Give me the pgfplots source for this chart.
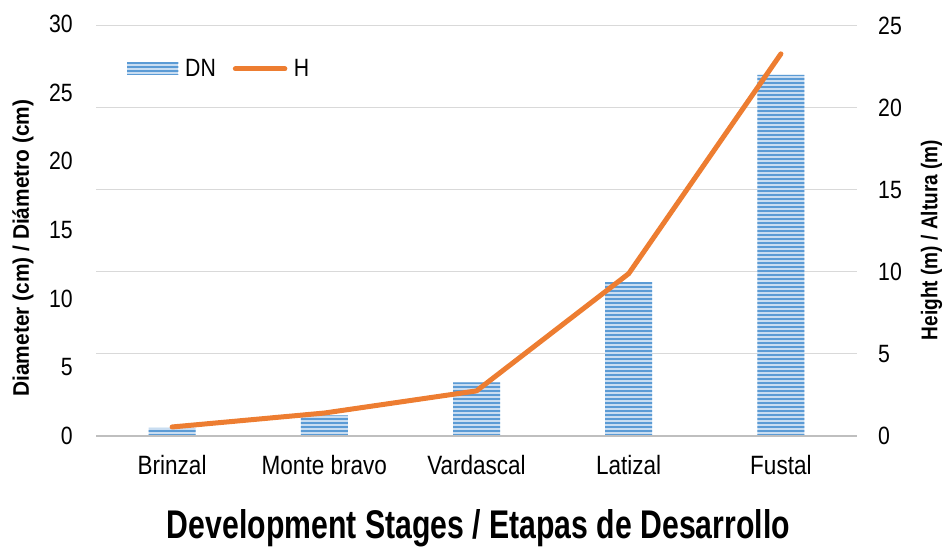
\documentclass[border=0pt]{standalone}
\usepackage{fontspec}
\setmainfont{Liberation Sans}[FakeStretch=0.85]
\usepackage{pgfplots}
\pgfplotsset{compat=1.18}
\usetikzlibrary{patterns.meta}
\definecolor{barblue}{HTML}{5B9BD5}
\definecolor{barlight}{HTML}{C9DDF1}
\definecolor{horange}{HTML}{ED7D31}
\definecolor{gridgray}{HTML}{D9D9D9}
\definecolor{basegray}{HTML}{BFBFBF}
\pgfplotstableread{
x DN H
0 0.6 0.55
1 1.5 1.4
2 3.9 2.75
3 11.2 9.9
4 26.3 23.3
}\datatable
\begin{document}
\begin{tikzpicture}
\path (-96bp,-111bp) rectangle (847bp,436bp);
\begin{axis}[
  at={(0,0)}, anchor=south west, scale only axis,
  width=761bp, height=412bp,
  xmin=-0.5, xmax=4.5, ymin=0, ymax=30,
  axis y line*=left, axis x line*=bottom,
  axis line style={draw=none},
  major tick length=0pt,
  xtick={0,1,2,3,4},
  xticklabels={Brinzal,Monte bravo,Vardascal,Latizal,Fustal},
  ytick={0,5,...,30},
  extra y ticks={5.971,11.943,17.914,23.885,29.857},
  extra y tick labels={},
  extra y tick style={grid=major, major grid style={gridgray, line width=1bp}},
  /pgf/number format/assume math mode=true,
  xticklabel style={font=\fontsize{26.5bp}{26.5bp}\selectfont, inner sep=0pt, anchor=north, yshift=-19bp},
  yticklabel style={font=\fontsize{25bp}{25bp}\selectfont, inner sep=0pt, anchor=east, xshift=-23bp},
  legend style={at={(0.0407,0.8908)}, anchor=west, draw=none, fill=none, inner sep=0pt,
    font=\fontsize{25bp}{25bp}\selectfont,
    nodes={inner sep=0pt},
    /tikz/every even column/.append style={column sep=17bp}},
  legend columns=2,
]
\addplot[ybar, bar width=47bp, bar shift=0pt, fill=barlight, draw=none,
  postaction={pattern={Lines[angle=0,distance=4bp,line width=2.2bp]}, pattern color=barblue},
  legend image code/.code={
    \fill[barlight] (0bp,-6bp) rectangle (51bp,6bp);
    \fill[pattern={Lines[angle=0,distance=4bp,line width=2.2bp]}, pattern color=barblue] (0bp,-6bp) rectangle (51bp,6bp);
    \path[draw=none, fill=none] (0bp,0bp) -- (58bp,0bp);
  }] table[x=x, y=DN] {\datatable};
\addlegendentry{DN}
\addlegendimage{legend image code/.code={
    \draw[horange, line width=5bp, line cap=round] (2.5bp,0bp) -- (52bp,0bp);
    \path[draw=none, fill=none] (0bp,0bp) -- (61bp,0bp);
  }}
\addlegendentry{H}
\draw[basegray, line width=3bp] (axis cs:-0.5,0) -- (axis cs:4.5,0);
\end{axis}
\begin{axis}[
  at={(0,0)}, anchor=south west, scale only axis,
  width=761bp, height=412bp,
  xmin=-0.5, xmax=4.5, ymin=0, ymax=25.12,
  axis y line*=right, axis x line=none,
  axis line style={draw=none},
  major tick length=0pt,
  xtick=\empty,
  ytick={0,5,...,25},
  /pgf/number format/assume math mode=true,
  yticklabel style={font=\fontsize{25bp}{25bp}\selectfont, inner sep=0pt, anchor=west, xshift=21bp},
]
\addplot[horange, line width=5bp, line cap=round, line join=round] table[x=x, y=H] {\datatable};
\end{axis}
\node[rotate=90, inner sep=0pt] at (-73bp,188bp) {\resizebox{297bp}{16.5bp}{\bfseries Diameter (cm) / Diámetro (cm)}};
\node[rotate=90, inner sep=0pt] at (835.5bp,196bp) {\resizebox{200bp}{16.5bp}{\bfseries Height (m) / Altura (m)}};
\node[anchor=base, inner sep=0pt] at (382.5bp,-102bp) {\resizebox{623bp}{29bp}{\bfseries Development Stages / Etapas de Desarrollo}};
\end{tikzpicture}
\end{document}
